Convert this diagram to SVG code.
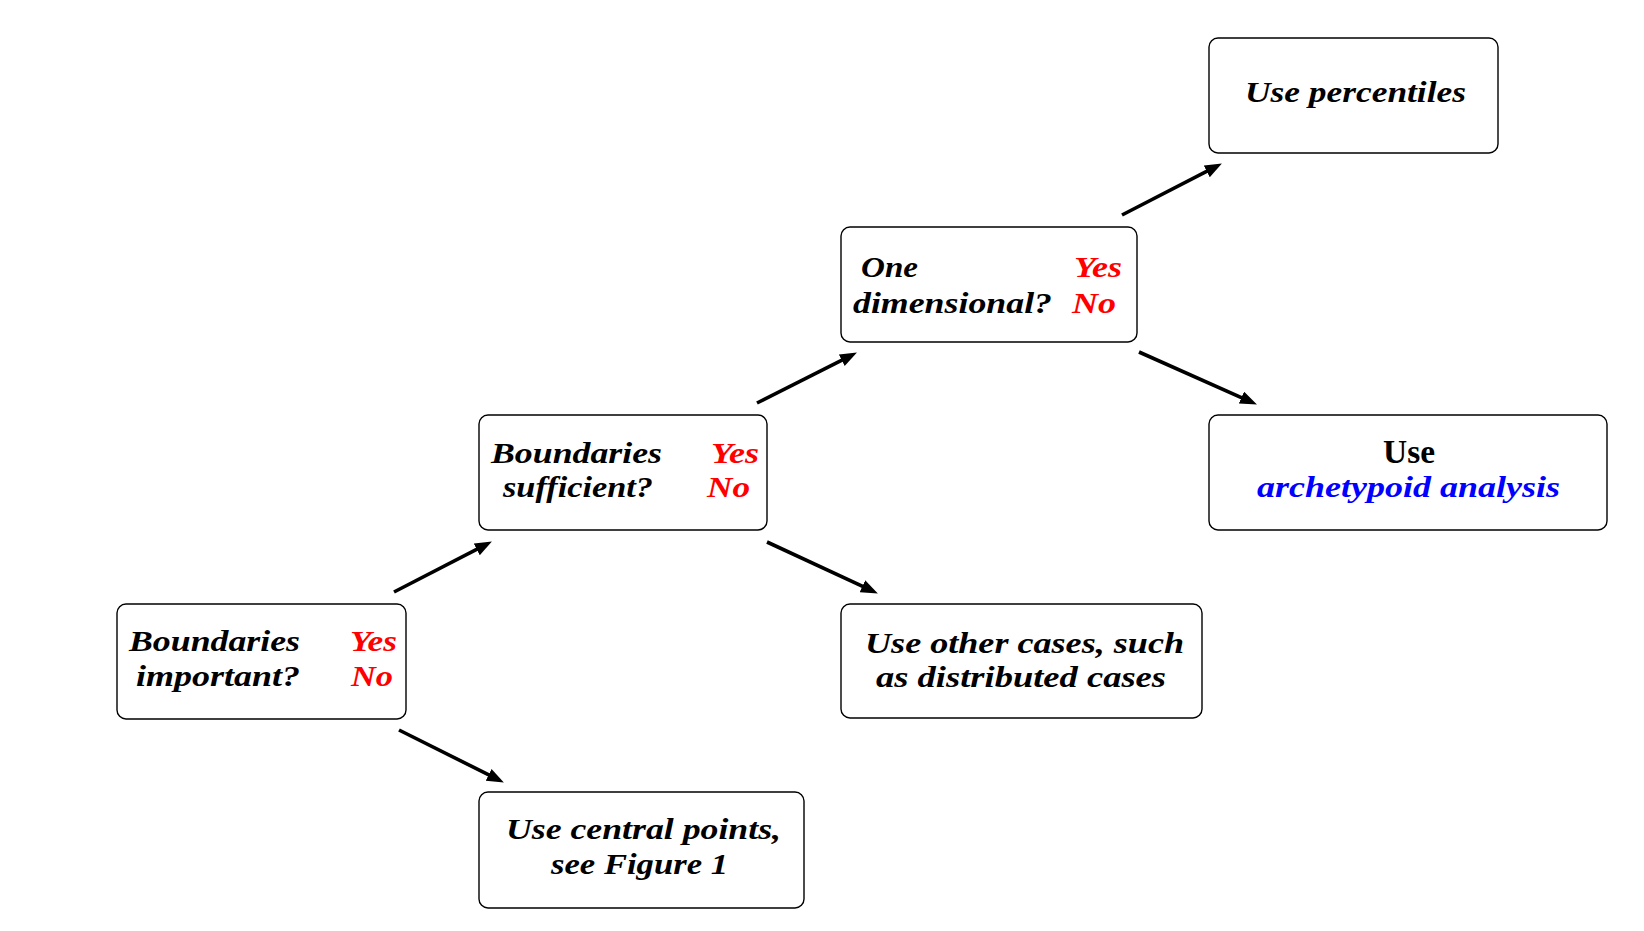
<svg xmlns="http://www.w3.org/2000/svg" width="1644" height="931" viewBox="0 0 1644 931">
<defs>
<style>
.box{fill:#fff;stroke:#000;stroke-width:1.4}
.t{font-family:"Liberation Serif","DejaVu Serif",serif;font-size:29px;font-weight:bold;font-style:italic;fill:#000}
.r{fill:#ff0000}
.b{fill:#0000ff}
.up{font-style:normal;font-size:33px}
.conn{stroke:#000;stroke-width:3.6;fill:none;marker-end:url(#ah)}
</style>
<marker id="ah" markerUnits="userSpaceOnUse" markerWidth="18" markerHeight="14" refX="8" refY="6.5" orient="auto">
<path d="M0,0 L17,6.5 L0,13 z" fill="#000"/>
</marker>
</defs>
<rect width="1644" height="931" fill="#fff"/>
<g id="connectors">
<line class="conn" x1="394" y1="592" x2="483.9" y2="545.7"/>
<line class="conn" x1="399" y1="730" x2="495.8" y2="778.4"/>
<line class="conn" x1="757" y1="403" x2="848.9" y2="356.6"/>
<line class="conn" x1="767" y1="542" x2="869.7" y2="589.6"/>
<line class="conn" x1="1122" y1="215" x2="1213.9" y2="167.7"/>
<line class="conn" x1="1139" y1="352" x2="1248.7" y2="400.8"/>
</g>
<g id="n-important">
<rect class="box" x="117" y="604" width="289" height="115" rx="9"/>
<text class="t" x="129" y="651" textLength="171" lengthAdjust="spacingAndGlyphs">Boundaries</text>
<text class="t" x="136" y="686" textLength="164" lengthAdjust="spacingAndGlyphs">important?</text>
<text class="t r" x="350" y="651" textLength="47" lengthAdjust="spacingAndGlyphs">Yes</text>
<text class="t r" x="351" y="686" textLength="42" lengthAdjust="spacingAndGlyphs">No</text>
</g>
<g id="n-sufficient">
<rect class="box" x="479" y="415" width="288" height="115" rx="9"/>
<text class="t" x="491" y="463" textLength="171" lengthAdjust="spacingAndGlyphs">Boundaries</text>
<text class="t" x="503" y="497" textLength="150" lengthAdjust="spacingAndGlyphs">sufficient?</text>
<text class="t r" x="711" y="463" textLength="48" lengthAdjust="spacingAndGlyphs">Yes</text>
<text class="t r" x="707" y="497" textLength="43" lengthAdjust="spacingAndGlyphs">No</text>
</g>
<g id="n-onedim">
<rect class="box" x="841" y="227" width="296" height="115" rx="9"/>
<text class="t" x="861" y="277" textLength="57" lengthAdjust="spacingAndGlyphs">One</text>
<text class="t" x="853" y="313" textLength="199" lengthAdjust="spacingAndGlyphs">dimensional?</text>
<text class="t r" x="1074" y="277" textLength="48" lengthAdjust="spacingAndGlyphs">Yes</text>
<text class="t r" x="1072" y="313" textLength="44" lengthAdjust="spacingAndGlyphs">No</text>
</g>
<g id="n-percentiles">
<rect class="box" x="1209" y="38" width="289" height="115" rx="9"/>
<text class="t" x="1245" y="102" textLength="221" lengthAdjust="spacingAndGlyphs">Use percentiles</text>
</g>
<g id="n-archetypoid">
<rect class="box" x="1209" y="415" width="398" height="115" rx="9"/>
<text class="t up" x="1383" y="463" textLength="52" lengthAdjust="spacingAndGlyphs">Use</text>
<text class="t b" x="1257" y="497" textLength="303" lengthAdjust="spacingAndGlyphs">archetypoid analysis</text>
</g>
<g id="n-central">
<rect class="box" x="479" y="792" width="325" height="116" rx="9"/>
<text class="t" x="506" y="839" textLength="275" lengthAdjust="spacingAndGlyphs">Use central points,</text>
<text class="t" x="551" y="874" textLength="177" lengthAdjust="spacingAndGlyphs">see Figure 1</text>
</g>
<g id="n-other">
<rect class="box" x="841" y="604" width="361" height="114" rx="9"/>
<text class="t" x="865" y="653" textLength="319" lengthAdjust="spacingAndGlyphs">Use other cases, such</text>
<text class="t" x="876" y="687" textLength="290" lengthAdjust="spacingAndGlyphs">as distributed cases</text>
</g>
</svg>
